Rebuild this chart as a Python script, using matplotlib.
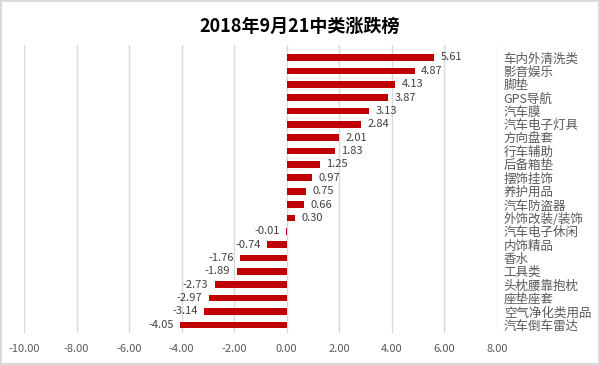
import matplotlib.pyplot as plt
import numpy as np

plt.rcParams['font.family'] = ['Noto Sans CJK SC', 'DejaVu Sans']

categories = ['车内外清洗类', '影音娱乐', '脚垫', 'GPS导航', '汽车膜', '汽车电子灯具',
              '方向盘套', '行车辅助', '后备箱垫', '摆饰挂饰', '养护用品', '汽车防盗器',
              '外饰改装/装饰', '汽车电子休闲', '内饰精品', '香水', '工具类',
              '头枕腰靠抱枕', '座垫座套', '空气净化类用品', '汽车倒车雷达']
values = [5.61, 4.87, 4.13, 3.87, 3.13, 2.84, 2.01, 1.83, 1.25, 0.97, 0.75, 0.66,
          0.30, -0.01, -0.74, -1.76, -1.89, -2.73, -2.97, -3.14, -4.05]
xticks = [-10, -8, -6, -4, -2, 0, 2, 4, 6, 8]

fig = plt.figure(figsize=(6, 3.65), dpi=100)
fig.patch.set_edgecolor('#D9D9D9')
fig.patch.set_linewidth(1.5)
ax = fig.add_axes([0.04, 0.088, 0.788, 0.79])

y = np.arange(len(categories))
ax.barh(y, values, height=0.5, color='#C00000', zorder=3)

for yi, v in zip(y, values):
    if v >= 0:
        ax.text(v + 0.25, yi, f'{v:.2f}', va='center', ha='left', fontsize=8, color='#404040')
    else:
        ax.text(v - 0.25, yi, f'{v:.2f}', va='center', ha='right', fontsize=8, color='#404040')

ax.set_xlim(-10, 8)
ax.set_ylim(len(categories) - 0.4, -0.97)
ax.set_xticks(xticks)
ax.set_xticklabels([f'{t:.2f}' for t in xticks], fontsize=8, color='#595959')
ax.set_yticks(y)
ax.set_yticklabels(categories, fontsize=9, color='#595959')
ax.yaxis.tick_right()
ax.tick_params(axis='both', length=0)
ax.tick_params(axis='y', pad=5)
ax.tick_params(axis='x', pad=8)
ax.grid(axis='x', color='#D9D9D9', linewidth=1, zorder=0)
for s in ax.spines.values():
    s.set_visible(False)

fig.suptitle('2018年9月21中类涨跌榜', fontsize=13, fontweight='bold', y=0.955)

fig.savefig('out.png', dpi=100, edgecolor=fig.get_edgecolor())
